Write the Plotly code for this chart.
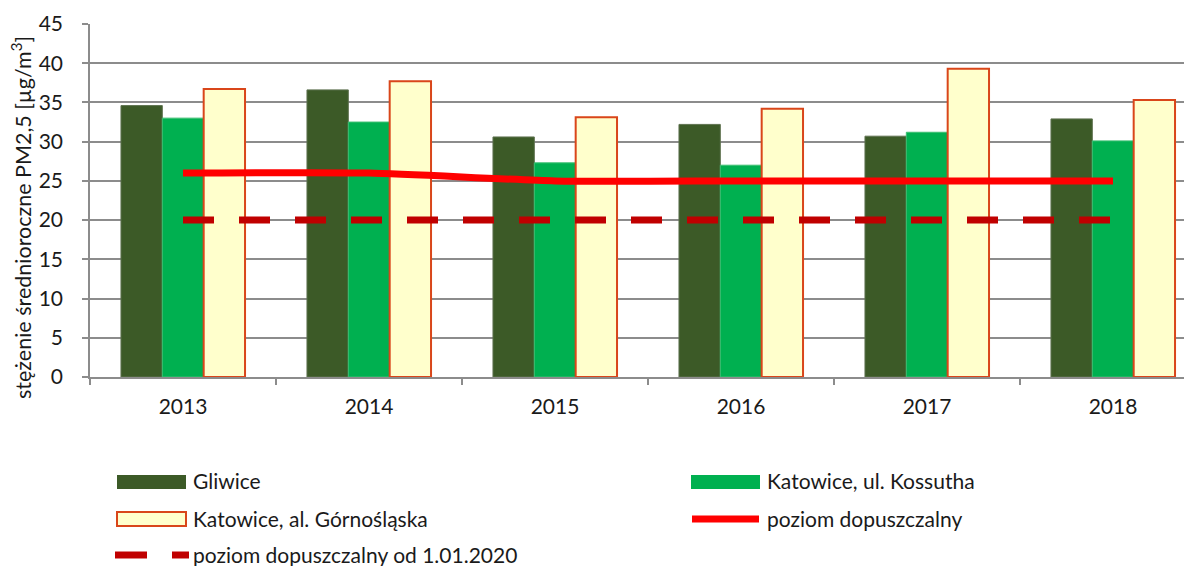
import plotly.graph_objects as go

years = ["2013", "2014", "2015", "2016", "2017", "2018"]
gliwice = [34.6, 36.6, 30.6, 32.2, 30.7, 32.9]
kossutha = [33.0, 32.5, 27.3, 27.0, 31.2, 30.1]
gornoslaska = [36.7, 37.7, 33.1, 34.2, 39.3, 35.3]
limit_now = [26, 26, 25, 25, 25, 25]
limit_2020 = [20, 20, 20, 20, 20, 20]

names = ["Gliwice", "Katowice, ul. Kossutha", "Katowice, al. Górnośląska",
         "poziom dopuszczalny", "poziom dopuszczalny od 1.01.2020"]

FONT = "Lato, 'Open Sans', sans-serif"
TXT = "#1a1a1a"
C_GL = "#3C5A27"
C_KO = "#00B050"
C_GO_FILL = "#FFFFCC"
C_GO_LINE = "#D9461A"
C_LIM = "#FF0000"
C_LIM20 = "#C00000"

fig = go.Figure()
fig.add_trace(go.Bar(x=years, y=gliwice, name=names[0], marker_color=C_GL,
                     marker_line=dict(color="#5f7250", width=1), showlegend=False))
fig.add_trace(go.Bar(x=years, y=kossutha, name=names[1], marker_color=C_KO,
                     marker_line=dict(color="#3cbf72", width=1), showlegend=False))
fig.add_trace(go.Bar(x=years, y=gornoslaska, name=names[2], marker_color=C_GO_FILL,
                     marker_line=dict(color=C_GO_LINE, width=2), showlegend=False))
fig.add_trace(go.Scatter(x=years, y=limit_now, name=names[3], mode="lines",
                         line=dict(color=C_LIM, width=7, shape="spline", smoothing=0.6),
                         showlegend=False))
fig.add_trace(go.Scatter(x=years, y=limit_2020, name=names[4], mode="lines",
                         line=dict(color=C_LIM20, width=7, dash="31px,25px"),
                         showlegend=False))

# page body has an 8px margin: work in page pixels, convert to figure pixels
OFF = 8
W, H = 1192 - OFF, 566 - OFF
L, T, B = 90 - OFF, 24 - OFF, 377 - OFF
PW, PH = W - L, B - T

def px(x):
    return (x - OFF - L) / PW

def py(y):
    return (B - (y - OFF)) / PH

shapes = []
annotations = []

legend_items = [
    ("rect", C_GL, None, 117, 482, names[0]),
    ("rect", C_KO, None, 691, 482, names[1]),
    ("rect", C_GO_FILL, C_GO_LINE, 117, 519, names[2]),
    ("line", C_LIM, None, 691, 519, names[3]),
    ("dash", C_LIM20, None, 117, 555, names[4]),
]
for kind, col, lcol, x0, yc, label in legend_items:
    if kind == "rect":
        shapes.append(dict(type="rect", xref="paper", yref="paper",
                           x0=px(x0), x1=px(x0 + 69), y0=py(yc + 7), y1=py(yc - 7),
                           fillcolor=col,
                           line=dict(color=lcol if lcol else col, width=2 if lcol else 0)))
    elif kind == "line":
        shapes.append(dict(type="line", xref="paper", yref="paper",
                           x0=px(x0 + 1), x1=px(x0 + 68), y0=py(yc), y1=py(yc),
                           line=dict(color=col, width=7)))
    else:
        shapes.append(dict(type="line", xref="paper", yref="paper",
                           x0=px(x0 - 2), x1=px(x0 + 30), y0=py(yc), y1=py(yc),
                           line=dict(color=col, width=7)))
        shapes.append(dict(type="line", xref="paper", yref="paper",
                           x0=px(x0 + 55), x1=px(x0 + 72), y0=py(yc), y1=py(yc),
                           line=dict(color=col, width=7)))
    annotations.append(dict(text=label, xref="paper", yref="paper",
                            x=px(x0 + 74), y=py(yc - 1), xanchor="left", yanchor="middle",
                            showarrow=False, font=dict(family=FONT, size=21, color=TXT)))

annotations.append(dict(text="stężenie średnioroczne PM2,5 [µg/m<sup>3</sup>]",
                        xref="paper", yref="paper", x=px(22), y=py(218),
                        xanchor="center", yanchor="middle", textangle=-90,
                        showarrow=False, font=dict(family=FONT, size=21.5, color=TXT)))

fig.update_layout(
    width=W, height=H,
    margin=dict(l=L, r=0, t=T, b=H - B, pad=0),
    paper_bgcolor="white", plot_bgcolor="white",
    barmode="group", bargap=0.333, bargroupgap=0,
    font=dict(family=FONT, size=21, color=TXT),
    showlegend=False,
    shapes=shapes, annotations=annotations,
    xaxis=dict(type="category", range=[-0.5, (1192 - 90) / 186.0 - 0.5],
               showline=True, linecolor="#8c8c8c", linewidth=1.5,
               ticks="outside", tickson="boundaries", ticklen=6, tickcolor="#8c8c8c",
               tickwidth=1.5, showgrid=False, ticklabelstandoff=10,
               tickfont=dict(family=FONT, size=21, color=TXT)),
    yaxis=dict(range=[0, 45], dtick=5, tick0=0,
               showline=True, linecolor="#8c8c8c", linewidth=1.5,
               ticks="outside", ticklen=6, tickcolor="#8c8c8c", tickwidth=1.5,
               showgrid=True, gridcolor="#8c8c8c", gridwidth=1.5,
               zeroline=False, ticklabelstandoff=15,
               tickfont=dict(family=FONT, size=21, color=TXT)),
)

fig.write_html("out.html")
